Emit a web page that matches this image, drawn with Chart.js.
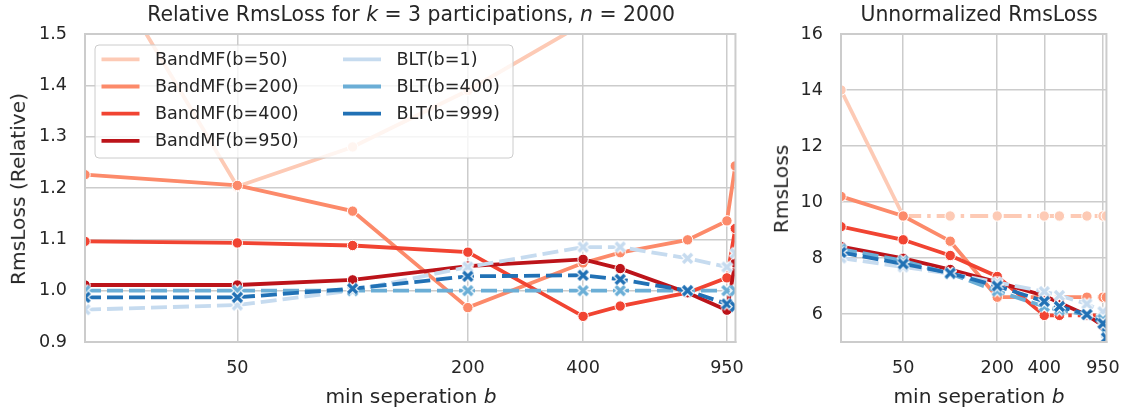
<!DOCTYPE html>
<html>
<head>
<meta charset="utf-8">
<script src="https://cdn.jsdelivr.net/npm/chart.js@4.4.0/dist/chart.umd.min.js"></script>
<style>
  html, body { margin: 0; padding: 0; background: #fff; }
  #wrap { position: relative; width: 1136px; height: 412px; font-family: "DejaVu Sans", sans-serif; color: #262626; }
  canvas { position: absolute; top: 0; }
  .lbl { position: absolute; transform: translate(-50%, -50%); white-space: nowrap; font-size: 20.2px; line-height: 1; }
  .ttl { font-size: 20.4px; }
  .rot { transform: translate(-50%, -50%) rotate(-90deg); }
</style>
</head>
<body>
<div id="wrap">
  <canvas id="rel" width="760" height="412" style="left:0"></canvas>
  <canvas id="abs" width="376" height="412" style="left:760px"></canvas>
  <div class="lbl ttl" style="left:411px;top:14px">Relative RmsLoss for <i>k</i> = 3 participations, <i>n</i> = 2000</div>
  <div class="lbl ttl" style="left:979px;top:14px">Unnormalized RmsLoss</div>
  <div class="lbl" style="left:411px;top:396px">min seperation <i>b</i></div>
  <div class="lbl" style="left:979px;top:396px">min seperation <i>b</i></div>
  <div class="lbl rot" style="left:18px;top:189px">RmsLoss (Relative)</div>
  <div class="lbl rot" style="left:781px;top:189px">RmsLoss</div>
</div>
<script>
// x values (min separation b) and tick labels
const bValues = [20, 50, 100, 200, 400, 500, 750, 950, 999];
const xTicks = [50, 200, 400, 950];
const absTicks = [6, 8, 10, 12, 14, 16];

const names = ["BandMF(b=50)", "BandMF(b=200)", "BandMF(b=400)", "BandMF(b=950)",
               "BLT(b=1)", "BLT(b=400)", "BLT(b=999)"];
const bandB = [50, 200, 400, 950];
const colors = ["#fdcab5", "#fc8a6a", "#f14432", "#bc141a", "#c6dbef", "#6baed6", "#2171b5"];

// relative RmsLoss (left panel)
const bandmf50Rel  = [1.70, 1.203, 1.28, 1.39, 1.52, 1.55, 1.59, 1.64, 1.79];
const bandmf200Rel = [1.226, 1.205, 1.155, 0.967, 1.054, 1.074, 1.099, 1.136, 1.243];
const bandmf400Rel = [1.096, 1.093, 1.088, 1.075, 0.950, 0.970, 0.996, 1.025, 1.121];
const bandmf950Rel = [1.011, 1.011, 1.021, 1.048, 1.061, 1.043, 0.996, 0.962, 1.054];
const blt1Rel      = [0.963, 0.972, 1.000, 1.046, 1.085, 1.085, 1.063, 1.046, 1.073];
const blt400Rel    = [1.0, 1.0, 1.0, 1.0, 1.0, 1.0, 1.0, 1.0, 1.0];
const blt999Rel    = [0.987, 0.987, 1.004, 1.028, 1.030, 1.022, 1.000, 0.974, 0.969];

// unnormalized RmsLoss (right panel)
const bandmf50Abs  = [14.0, 9.5, 9.5, 9.5, 9.5, 9.5, 9.5, 9.5, 9.5];
const bandmf200Abs = [10.2, 9.5, 8.6, 6.6, 6.6, 6.6, 6.6, 6.6, 6.6];
const bandmf400Abs = [9.12, 8.65, 8.09, 7.34, 5.95, 5.95, 5.95, 5.95, 5.95];
const bandmf950Abs = [8.41, 7.99, 7.59, 7.14, 6.65, 6.40, 5.96, 5.58, 5.60];
const blt1Abs      = [8.0, 7.68, 7.44, 7.13, 6.80, 6.66, 6.36, 6.08, 5.70];
const blt400Abs    = [8.32, 7.9, 7.44, 6.82, 6.27, 6.14, 5.98, 5.81, 5.31];
const blt999Abs    = [8.20, 7.79, 7.46, 7.0, 6.45, 6.27, 5.98, 5.66, 5.15];

const relSeries = [bandmf50Rel, bandmf200Rel, bandmf400Rel, bandmf950Rel, blt1Rel, blt400Rel, blt999Rel];
const absSeries = [bandmf50Abs, bandmf200Abs, bandmf400Abs, bandmf950Abs, blt1Abs, blt400Abs, blt999Abs];

const FONT = { family: "DejaVu Sans", size: 17.6 };
const GRID = "#cccccc";
const LW = 3.8;

function makeX(color) {
	const c = document.createElement("canvas");
	c.width = c.height = 15;
	const g = c.getContext("2d");
	[["#ffffff", 6], [color, 3.4]].forEach(([col, w]) => {
		g.strokeStyle = col;
		g.lineWidth = w;
		g.beginPath();
		g.moveTo(3, 3); g.lineTo(12, 12);
		g.moveTo(12, 3); g.lineTo(3, 12);
		g.stroke();
	});
	return c;
}

function series(i, values, dashDot) {
	const isBand = i < 4;
	const ds = {
		label: names[i],
		data: bValues.map((b, j) => ({ x: b, y: values[j] })),
		borderColor: colors[i],
		backgroundColor: colors[i],
		borderWidth: LW,
		borderDash: isBand ? [] : [16, 6],
		pointStyle: isBand ? "circle" : makeX(colors[i]),
		pointRadius: 5.2,
		pointBorderColor: "#ffffff",
		pointBorderWidth: 1,
		order: 7 - i,
		tension: 0
	};
	if (dashDot && isBand) {
		ds.segment = { borderDash: ctx => ctx.p0.parsed.x >= bandB[i] ? [18, 6, 3.5, 6] : undefined };
	}
	return ds;
}

const framePlugin = {
	id: "frame",
	afterDatasetsDraw(chart) {
		const a = chart.chartArea, ctx = chart.ctx;
		ctx.save();
		ctx.strokeStyle = GRID;
		ctx.lineWidth = 2;
		ctx.strokeRect(a.left, a.top, a.right - a.left, a.bottom - a.top);
		ctx.restore();
	}
};

const legendPlugin = {
	id: "innerLegend",
	afterDraw(chart) {
		const ctx = chart.ctx, a = chart.chartArea;
		const x0 = a.left + 10, y0 = a.top + 11, w = 418, h = 113;
		ctx.save();
		ctx.fillStyle = "rgba(255,255,255,0.8)";
		ctx.strokeStyle = GRID;
		ctx.lineWidth = 1;
		ctx.beginPath();
		ctx.roundRect(x0, y0, w, h, 4);
		ctx.fill();
		ctx.stroke();
		ctx.font = FONT.size + "px \"DejaVu Sans\"";
		ctx.textBaseline = "middle";
		chart.data.datasets.forEach((ds, i) => {
			const col = i < 4 ? 0 : 1, row = i < 4 ? i : i - 4;
			const lx = x0 + 6.5 + col * 241.5, ly = y0 + 14.3 + row * 27.2;
			ctx.strokeStyle = ds.borderColor;
			ctx.lineWidth = LW;
			ctx.beginPath();
			ctx.moveTo(lx, ly);
			ctx.lineTo(lx + 38, ly);
			ctx.stroke();
			ctx.fillStyle = "#262626";
			ctx.fillText(ds.label, lx + 53.5, ly + 1);
		});
		ctx.restore();
	}
};

function options(y, yWidth, padRight) {
	return {
		responsive: false,
		animation: false,
		layout: { padding: { top: 34, right: padRight, left: 0, bottom: 0 } },
		plugins: { legend: { display: false }, tooltip: { enabled: false }, title: { display: false } },
		scales: {
			x: {
				type: "logarithmic",
				min: 20,
				max: 1000,
				afterBuildTicks: ax => { ax.ticks = xTicks.map(v => ({ value: v })); },
				afterFit: ax => { ax.height = 70; },
				grid: { color: GRID, lineWidth: 1.5, drawTicks: false },
				border: { color: GRID, width: 2 },
				ticks: { padding: 16, color: "#262626", font: FONT, maxRotation: 0, autoSkip: false, callback: v => String(v) }
			},
			y: Object.assign({
				afterFit: ax => { ax.width = yWidth; },
				grid: { color: GRID, lineWidth: 1.5, drawTicks: false },
				border: { color: GRID, width: 2 }
			}, y)
		}
	};
}

new Chart(document.getElementById("rel"), {
	type: "line",
	data: { datasets: relSeries.map((v, i) => series(i, v, false)) },
	options: options({
		min: 0.9,
		max: 1.5,
		ticks: { stepSize: 0.1, padding: 18, color: "#262626", font: FONT, callback: v => v.toFixed(1) }
	}, 85, 22),
	plugins: [framePlugin, legendPlugin]
});

new Chart(document.getElementById("abs"), {
	type: "line",
	data: { datasets: absSeries.map((v, i) => series(i, v, true)) },
	options: options({
		min: 5,
		max: 16,
		afterBuildTicks: ax => { ax.ticks = absTicks.map(v => ({ value: v })); },
		ticks: { padding: 18, color: "#262626", font: FONT, callback: v => String(v) }
	}, 81, 19),
	plugins: [framePlugin]
});
</script>
</body>
</html>
